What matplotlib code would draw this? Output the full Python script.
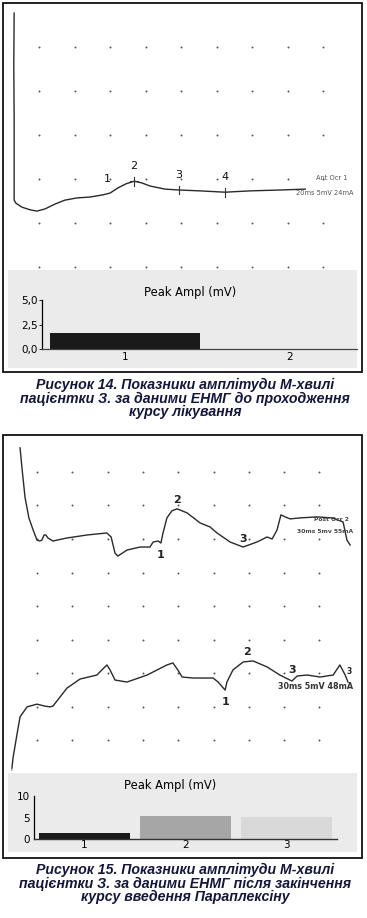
import numpy as np
import matplotlib
matplotlib.use("Agg")
import matplotlib.pyplot as plt
from matplotlib.patches import Rectangle

W, H = 367, 918
DPI = 100

# ---- Fig 14: EMG trace (grid divisions) ----
tr14_x = [-0.70, -0.71, -0.70, -0.70, -0.65, -0.48, -0.25, -0.06, 0.17, 0.45, 0.73,
          1.07, 1.44, 1.80, 2.00, 2.23, 2.45, 2.68, 2.90, 3.13, 3.55, 3.94, 4.54,
          5.24, 5.94, 6.79, 7.50]
tr14_y = [5.77, 4.60, 3.34, 1.52, 1.45, 1.36, 1.30, 1.27, 1.32, 1.43, 1.52,
          1.57, 1.59, 1.64, 1.68, 1.80, 1.89, 1.95, 1.91, 1.84, 1.77, 1.75, 1.73,
          1.70, 1.73, 1.75, 1.77]
mk14_x = [1.92, 2.68, 3.94, 5.24]
mk14_lab = ["1", "2", "3", "4"]

# ---- Fig 14: bar chart ----
cat14 = ["1", "2"]
amp14 = [1.65, 0.0]

# ---- Fig 15: upper trace ----
up_x = [-0.48, -0.42, -0.34, -0.23, -0.11, 0.00, 0.08, 0.14, 0.20, 0.25, 0.31, 0.45,
        0.85, 1.42, 1.98, 2.10, 2.21, 2.29, 2.55, 2.92, 3.20, 3.29, 3.43, 3.51, 3.57,
        3.68, 3.82, 3.97, 4.25, 4.62, 4.90, 5.10, 5.47, 5.84, 6.23, 6.52, 6.66, 6.80,
        6.91, 7.03, 7.17, 7.45, 7.93, 8.36, 8.67, 8.78, 8.87]
up_y = [8.72, 8.06, 7.25, 6.63, 6.27, 5.97, 5.94, 5.97, 6.12, 6.12, 6.03, 5.94,
        6.03, 6.12, 6.18, 6.06, 5.58, 5.49, 5.67, 5.76, 5.76, 5.91, 5.94, 5.88, 6.18,
        6.63, 6.84, 6.90, 6.78, 6.48, 6.36, 6.18, 5.91, 5.76, 5.91, 6.06, 6.00, 6.27,
        6.72, 6.66, 6.60, 6.63, 6.66, 6.63, 6.51, 5.97, 5.82]
up_mk_x = [3.51, 3.97, 5.84]

# ---- Fig 15: lower trace ----
lo_x = [-0.71, -0.68, -0.57, -0.48, -0.28, 0.00, 0.23, 0.37, 0.45, 0.65, 0.85, 1.22,
        1.70, 1.78, 1.98, 2.07, 2.21, 2.55, 3.12, 3.68, 3.85, 3.99, 4.11, 4.42, 4.99,
        5.13, 5.33, 5.38, 5.55, 5.84, 6.12, 6.52, 6.88, 7.22, 7.37, 7.65, 8.02, 8.39,
        8.58, 8.73, 8.81]
lo_y = [-0.84, -0.54, 0.15, 0.69, 0.99, 1.07, 1.01, 0.99, 1.01, 1.28, 1.55, 1.82,
        1.94, 2.03, 2.24, 2.09, 1.79, 1.73, 1.94, 2.24, 2.30, 2.09, 1.88, 1.85, 1.85,
        1.73, 1.49, 1.73, 2.09, 2.33, 2.36, 2.18, 1.94, 1.76, 1.91, 1.94, 1.88, 1.94,
        2.24, 1.94, 1.73]
lo_mk_x = [5.33, 5.95, 7.20]

# ---- Fig 15: bar chart ----
cat15 = ["1", "2", "3"]
amp15 = [1.4, 5.3, 5.1]
col15 = ["#1a1a1a", "#a6a6a6", "#d9d9d9"]

cap14 = ["Рисунок 14. Показники амплітуди М-хвилі",
         "пацієнтки З. за даними ЕНМГ до проходження",
         "курсу лікування"]
cap15 = ["Рисунок 15. Показники амплітуди М-хвилі",
         "пацієнтки З. за даними ЕНМГ після закінчення",
         "курсу введення Параплексіну"]


def px_axes(fig, x0, y0, x1, y1):
    # pixel box (top-left origin) -> axes
    return fig.add_axes([x0 / W, 1 - y1 / H, (x1 - x0) / W, (y1 - y0) / H])


fig = plt.figure(figsize=(W / DPI, H / DPI), dpi=DPI)
fig.patch.set_facecolor("white")

# frames and grey panels
for (x0, y0, x1, y1) in [(3, 3, 362, 372), (3, 435, 362, 858)]:
    fig.patches.append(Rectangle((x0 / W, 1 - y1 / H), (x1 - x0) / W, (y1 - y0) / H,
                                 transform=fig.transFigure, fill=False,
                                 edgecolor="#111111", linewidth=1.3))
for (x0, y0, x1, y1) in [(8, 270, 357, 368), (8, 773, 357, 852)]:
    fig.patches.append(Rectangle((x0 / W, 1 - y1 / H), (x1 - x0) / W, (y1 - y0) / H,
                                 transform=fig.transFigure, facecolor="#ebebeb",
                                 edgecolor="none", zorder=-1))

trace_kw = dict(color="#2a2a2a", linewidth=1.0)

# ---- trace 14 ----
ax = px_axes(fig, 4, 4, 361, 269)
ax.set_xlim((4 - 39) / 35.5, (361 - 39) / 35.5)
ax.set_ylim((267 - 269) / 44, (267 - 4) / 44)
gx, gy = np.meshgrid(np.arange(9), np.arange(6))
ax.scatter(gx.ravel(), gy.ravel(), s=2.0, color="#555555", linewidths=0)
ax.plot(tr14_x, tr14_y, **trace_kw)
mk_y = np.interp(mk14_x, tr14_x[3:], tr14_y[3:])
for i, (mx, my, lab) in enumerate(zip(mk14_x, mk_y, mk14_lab)):
    if i > 0:
        ax.plot([mx, mx], [my - 0.1, my + 0.1], color="#333333", lw=0.8)
    if i == 1:
        ax.plot([mx - 0.12, mx + 0.12], [my, my], color="#333333", lw=0.8)
    ax.annotate(lab, (mx, my), xytext=(0, 7), textcoords="offset points",
                ha="center", va="bottom", fontsize=8, color="#111111")
ax.text(8.25, 2.02, "Ant Ocr 1", fontsize=4.8, color="#555555", ha="center", va="center")
ax.text(8.05, 1.68, "20ms 5mV 24mA", fontsize=4.8, color="#555555", ha="center", va="center")
ax.axis("off")

# ---- bars 14 ----
ax = px_axes(fig, 42, 300, 357, 349)
x = np.arange(len(cat14))
ax.bar(x, amp14, width=0.915, color="#1a1a1a")
ax.set_xlim(-0.503, 1.406)
ax.set_ylim(0, 5)
ax.set_facecolor("none")
for s in ["top", "right"]:
    ax.spines[s].set_visible(False)
ax.spines["left"].set_linewidth(0.9)
ax.spines["bottom"].set_linewidth(0.9)
ax.spines["bottom"].set_color("#444444")
ax.set_yticks([0, 2.5, 5])
ax.set_yticklabels(["0,0", "2,5", "5,0"], fontsize=7.5)
ax.set_xticks(x)
ax.set_xticklabels(cat14, fontsize=7.5)
ax.tick_params(axis="y", length=2, width=0.6, pad=1)
ax.tick_params(axis="x", length=0, pad=2)
ax.set_title("Peak Ampl (mV)", fontsize=8.3, pad=3, x=0.47)

# ---- trace 15 ----
ax = px_axes(fig, 4, 436, 361, 771)
ax.set_xlim((4 - 37) / 35.3, (361 - 37) / 35.3)
ax.set_ylim((740 - 771) / 33.5, (740 - 436) / 33.5)
gx, gy = np.meshgrid(np.arange(9), np.arange(9))
ax.scatter(gx.ravel(), gy.ravel(), s=2.0, color="#555555", linewidths=0)
ax.plot(up_x, up_y, **trace_kw)
ax.plot(lo_x, lo_y, **trace_kw)
lab_kw = dict(textcoords="offset points", ha="center", fontsize=8,
              fontweight="bold", color="#222222")
uy = np.interp(up_mk_x, up_x, up_y)
ax.annotate("1", (up_mk_x[0], uy[0]), xytext=(0, -5), va="top", **lab_kw)
ax.annotate("2", (up_mk_x[1], uy[1]), xytext=(0, 3), va="bottom", **lab_kw)
ax.annotate("3", (up_mk_x[2], uy[2]), xytext=(0, 2), va="bottom", **lab_kw)
ly = np.interp(lo_mk_x, lo_x, lo_y)
ax.annotate("1", (lo_mk_x[0], ly[0]), xytext=(0, -5), va="top", **lab_kw)
ax.annotate("2", (lo_mk_x[1], ly[1]), xytext=(0, 3), va="bottom", **lab_kw)
ax.annotate("3", (lo_mk_x[2], ly[2]), xytext=(1, 4), va="bottom", **lab_kw)
ax.text(8.84, 2.03, "3", fontsize=5.5, fontweight="bold", color="#222222", ha="center", va="center")
ax.text(8.35, 6.57, "Post Ocr 2", fontsize=4.3, fontweight="bold", color="#444444", ha="center", va="center")
ax.text(8.15, 6.21, "30ms 5mv 55mA", fontsize=4.3, fontweight="bold", color="#444444", ha="center", va="center")
ax.text(7.88, 1.61, "30ms 5mV 48mA", fontsize=5.8, fontweight="bold", color="#333333", ha="center", va="center")
ax.plot([-0.71, -0.72], [-0.84, -1.0], color="#777777", lw=0.6)
ax.axis("off")

# ---- bars 15 ----
ax = px_axes(fig, 34, 796, 337, 839)
x = np.arange(len(cat15))
ax.bar(x, amp15, width=0.9, color=col15)
ax.set_xlim(-0.5, 2.5)
ax.set_ylim(0, 10)
ax.set_facecolor("none")
for s in ["top", "right"]:
    ax.spines[s].set_visible(False)
ax.spines["left"].set_linewidth(0.9)
ax.spines["bottom"].set_linewidth(1.0)
ax.spines["bottom"].set_color("#333333")
ax.set_yticks([0, 5, 10])
ax.set_yticklabels(["0", "5", "10"], fontsize=7.5)
ax.set_xticks(x)
ax.set_xticklabels(cat15, fontsize=7.5)
ax.tick_params(axis="y", length=0, pad=3)
ax.tick_params(axis="x", length=0, pad=1)
ax.set_title("Peak Ampl (mV)", fontsize=8.3, pad=5, x=0.45)

# ---- captions ----
cap_kw = dict(ha="center", va="center", fontsize=10.2, fontweight="bold",
              fontstyle="italic", family="Liberation Sans", color="#14173a")
for i, line in enumerate(cap14):
    fig.text(185 / W, 1 - (385 + 13.5 * i) / H, line, **cap_kw)
for i, line in enumerate(cap15):
    fig.text(185 / W, 1 - (870 + 13.5 * i) / H, line, **cap_kw)

fig.savefig("out.png", dpi=DPI)
